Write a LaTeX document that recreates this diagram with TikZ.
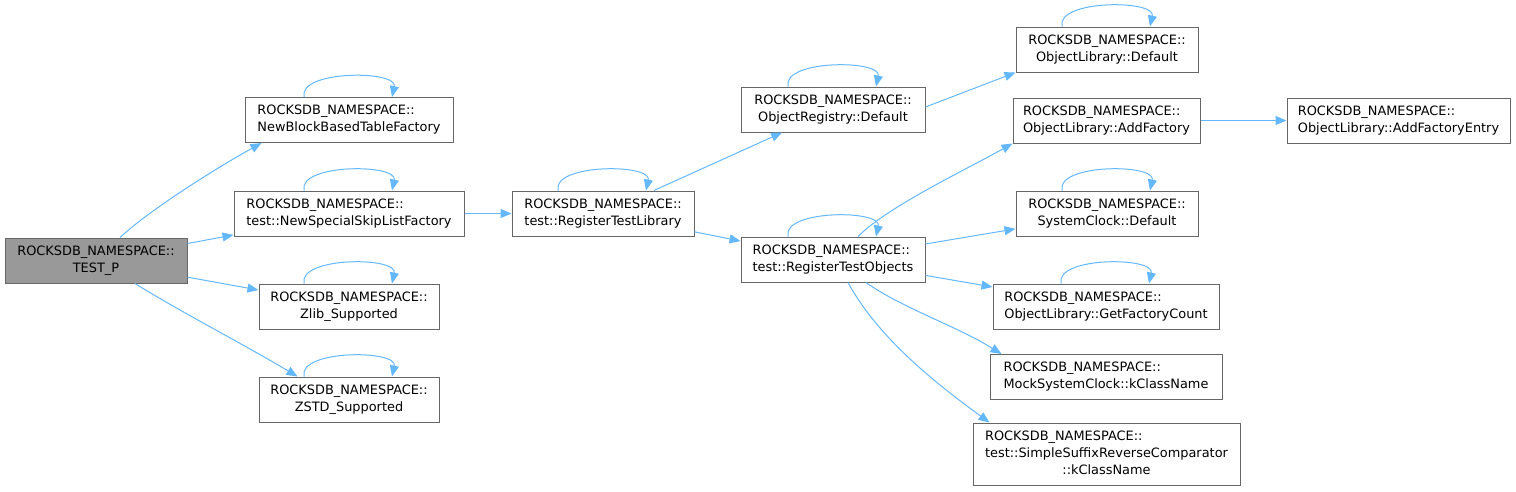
\documentclass[tikz,border=0pt]{standalone}
\usepackage{fontspec}
\setmainfont{DejaVu Sans}
\usetikzlibrary{arrows.meta}
\definecolor{edgeblue}{HTML}{63B8FF}
\definecolor{boxline}{HTML}{666666}
\definecolor{boxgray}{HTML}{999999}
\newcommand{\rns}[1]{\begin{tabular}{@{}l@{}}ROCKSDB\_NAMESPACE::\\\multicolumn{1}{@{}c@{}}{#1}\end{tabular}}

\begin{document}
\begin{tikzpicture}[
  x=1pt, y=-1pt,
  font=\fontsize{12.9}{17}\selectfont,
  fn/.style={draw=boxline, line width=1pt, fill=white, inner xsep=6pt, inner ysep=0pt, minimum height=45pt},
  cur/.style={fn, fill=boxgray},
  arr/.style={-{Triangle[length=11pt,width=9pt]}, draw=edgeblue, line width=1pt},
  selfcall/.style={arr}
]
\useasboundingbox (0,0) rectangle (1516,491);

\node[cur, minimum width=182pt] (tp) at (96,260.5) {\rns{TEST\_P}};
\node[fn, minimum width=208pt] (nbb) at (349,120) {\rns{NewBlockBasedTableFactory}};
\node[fn, minimum width=230pt] (nss) at (349,213.5) {\rns{test::NewSpecialSkipListFactory}};
\node[fn, minimum width=180pt] (zlib) at (349,306.5) {\rns{Zlib\_Supported}};
\node[fn, minimum width=180pt] (zstd) at (349,399.5) {\rns{ZSTD\_Supported}};
\node[fn, minimum width=182pt] (rtl) at (603,213.5) {\rns{test::RegisterTestLibrary}};
\node[fn, minimum width=184pt] (ord) at (833,109.5) {\rns{ObjectRegistry::Default}};
\node[fn, minimum width=184pt] (rto) at (833,259.5) {\rns{test::RegisterTestObjects}};
\node[fn, minimum width=182pt] (old) at (1107,49.5) {\rns{ObjectLibrary::Default}};
\node[fn, minimum width=187pt] (oaf) at (1106.5,120.5) {\rns{ObjectLibrary::AddFactory}};
\node[fn, minimum width=223pt] (oafe) at (1398.5,120.5) {\rns{ObjectLibrary::AddFactoryEntry}};
\node[fn, minimum width=182pt] (scd) at (1107,213.5) {\rns{SystemClock::Default}};
\node[fn, minimum width=226pt] (gfc) at (1106,306.5) {\rns{ObjectLibrary::GetFactoryCount}};
\node[fn, minimum width=232pt] (msc) at (1106,377) {\rns{MockSystemClock::kClassName}};
\node[fn, minimum width=267pt, minimum height=62pt] (ssr) at (1106.5,454)
  {\begin{tabular}{@{}l@{}}ROCKSDB\_NAMESPACE::\\test::SimpleSuffixReverseComparator\\\multicolumn{1}{@{}c@{}}{::kClassName}\end{tabular}};

\draw[arr] ([xshift=24pt]tp.north) .. controls +(30,-28) and +(-45,25) .. ([xshift=17pt]nbb.south west);
\draw[arr] (tp) -- (nss);
\draw[arr] (tp) -- (zlib);
\draw[arr] ([xshift=39pt]tp.south) .. controls +(45,28) and +(-50,-30) .. ([xshift=39pt]zstd.north west);
\draw[arr] (nss) -- (rtl);
\draw[arr] (rtl) -- (ord);
\draw[arr] (rtl) -- (rto);
\draw[arr] ([yshift=2.5pt]ord.east) -- (old.south west);
\draw[arr] ([xshift=25pt]rto.north) .. controls +(30,-30) and +(-50,28) .. (oaf.south west);
\draw[arr] (rto) -- (scd);
\draw[arr] (rto) -- (gfc);
\draw[arr] ([xshift=33pt]rto.south) .. controls +(35,25) and +(-45,-28) .. ([xshift=12pt]msc.north west);
\draw[arr] ([xshift=15pt]rto.south) .. controls +(30,55) and +(-55,-40) .. ([xshift=17pt]ssr.north west);
\draw[arr] (oaf) -- (oafe);

\foreach \n in {nbb,nss,zlib,zstd,rtl,ord,rto,old,scd,gfc}
  \draw[selfcall] ([xshift=-45pt]\n.north) .. controls +(-6,-27) and +(6,-27) .. ([xshift=43pt]\n.north);
\end{tikzpicture}
\end{document}
